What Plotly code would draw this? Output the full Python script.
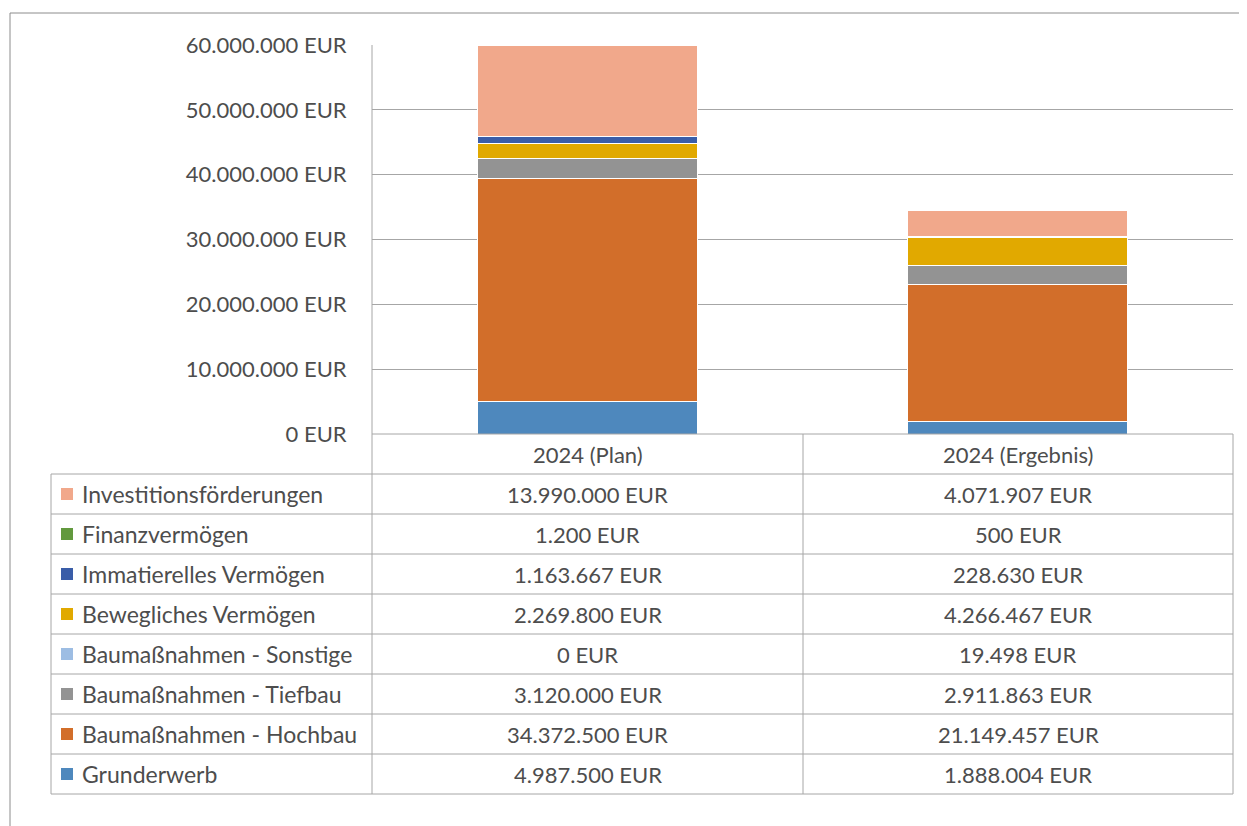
import plotly.graph_objects as go

# data
categories = ["2024 (Plan)", "2024 (Ergebnis)"]
series_names = [
    "Grunderwerb",
    "Baumaßnahmen - Hochbau",
    "Baumaßnahmen - Tiefbau",
    "Baumaßnahmen - Sonstige",
    "Bewegliches Vermögen",
    "Immatierelles Vermögen",
    "Finanzvermögen",
    "Investitionsförderungen",
]
plan_values = [4987500, 34372500, 3120000, 0, 2269800, 1163667, 1200, 13990000]
result_values = [1888004, 21149457, 2911863, 19498, 4266467, 228630, 500, 4071907]
series_colors = ["#4E88BD", "#D26E2A", "#939393", "#9DBDE3", "#E1A900", "#3A5DA8", "#62993E", "#F1A88B"]
tick_values = [0, 10000000, 20000000, 30000000, 40000000, 50000000, 60000000]

# page body has an 8px margin, so the figure is drawn a bit smaller and shifted
OFF = 8
W, H = 1247 - OFF, 826 - OFF
FONT = "Lato"
FS = 22
TXT = "#4D4D4D"
LINE = "#A6A6A6"


def px(x):
    return (x - OFF) / W


def py(y):
    return 1 - (y - OFF) / H


def eur(v):
    return f"{v:,}".replace(",", ".") + " EUR"


fig = go.Figure()
for name, color, p, r in zip(series_names, series_colors, plan_values, result_values):
    fig.add_trace(go.Bar(
        x=categories,
        y=[p, r],
        name=name,
        marker=dict(color=color, line=dict(color="white", width=1)),
        showlegend=False,
    ))

# table geometry (pixels of the screenshot)
x_left, x_axis, x_mid, x_right = 51, 372, 803, 1233
y_top, y_zero, row_h = 45, 434, 40
n_rows = len(series_names)
y_bottom = y_zero + row_h * (n_rows + 1)

shapes = []


def hline(y, x0, x1):
    shapes.append(dict(type="line", xref="paper", yref="paper", x0=px(x0), x1=px(x1),
                       y0=py(y), y1=py(y), line=dict(color=LINE, width=1)))


def vline(x, y0, y1):
    shapes.append(dict(type="line", xref="paper", yref="paper", x0=px(x), x1=px(x),
                       y0=py(y0), y1=py(y1), line=dict(color=LINE, width=1)))


hline(y_zero, x_axis, x_right)
for i in range(1, n_rows + 2):
    hline(y_zero + i * row_h, x_left, x_right)
vline(x_left, y_zero + row_h, y_bottom)
vline(x_axis, y_top, y_bottom)
vline(x_mid, y_zero, y_bottom)
vline(x_right, y_zero, y_bottom)

# outer chart border
shapes.append(dict(type="line", xref="paper", yref="paper", x0=px(10), x1=1, y0=py(13), y1=py(13),
                   line=dict(color="#8C8C8C", width=1)))
shapes.append(dict(type="line", xref="paper", yref="paper", x0=px(10), x1=px(10), y0=py(13), y1=0,
                   line=dict(color="#8C8C8C", width=1)))

annotations = []


def label(x, y, text, anchor="center", size=FS):
    annotations.append(dict(x=px(x), y=py(y), xref="paper", yref="paper", xanchor=anchor,
                            yanchor="middle", text=text, showarrow=False,
                            font=dict(size=size, color=TXT, family=FONT)))


col_centers = [(x_axis + x_mid) / 2, (x_mid + x_right) / 2]
for cx, cat in zip(col_centers, categories):
    label(cx, y_zero + row_h / 2, cat)

rows = list(zip(series_names, series_colors, plan_values, result_values))[::-1]
for i, (name, color, p, r) in enumerate(rows):
    cy = y_zero + row_h * (i + 1) + row_h / 2
    shapes.append(dict(type="rect", xref="paper", yref="paper", x0=px(61), x1=px(73),
                       y0=py(cy - 6), y1=py(cy + 6), fillcolor=color, line=dict(width=0)))
    label(80, cy, name, anchor="left", size=23)
    for cx, v in zip(col_centers, [p, r]):
        label(cx, cy, eur(v))

fig.update_layout(
    width=W, height=H,
    margin=dict(l=0, r=0, t=0, b=0, autoexpand=False),
    paper_bgcolor="white",
    plot_bgcolor="white",
    barmode="stack",
    bargap=0.49,
    font=dict(family=FONT, color=TXT),
    xaxis=dict(domain=[px(x_axis), px(x_right)], showticklabels=False, showgrid=False,
               zeroline=False, fixedrange=True, automargin=False),
    yaxis=dict(domain=[py(y_zero), py(y_top)], range=[0, 60000000],
               tickvals=tick_values, ticktext=[eur(v) for v in tick_values],
               showgrid=True, gridcolor=LINE, gridwidth=1, zeroline=False, automargin=False,
               ticks="outside", ticklen=20, tickcolor="rgba(0,0,0,0)",
               tickfont=dict(size=FS, color=TXT, family=FONT)),
    shapes=shapes,
    annotations=annotations,
)

fig.write_html("out.html")
